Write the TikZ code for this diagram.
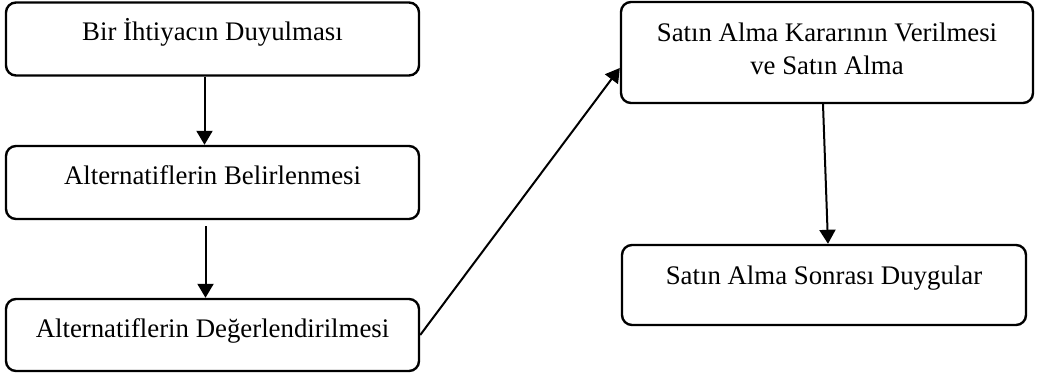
\documentclass[tikz,border=0pt]{standalone}
\usepackage{fontspec}
\setmainfont{Liberation Serif}
\usetikzlibrary{arrows.meta}

\begin{document}
\begin{tikzpicture}[x=0.5pt, y=-0.5pt,
    stage/.style={draw, line width=1.2pt, rounded corners=5pt, align=center,
        font=\fontsize{13.4}{16.5}\selectfont},
    oneline/.style={text height=9pt, text depth=7pt},
    flow/.style={-{Triangle[length=7pt, width=8pt]}, line width=1pt}]
    % Fix the frame of the picture
    \useasboundingbox (0,0) rectangle (1039,374);

    % Left column of stages
    \node[stage, oneline, minimum width=206.5pt, minimum height=36.5pt] (need) at (212.5,39) {Bir İhtiyacın Duyulması};
    \node[stage, oneline, minimum width=206.5pt, minimum height=36.5pt] (alts) at (212.5,182.5) {Alternatiflerin Belirlenmesi};
    \node[stage, oneline, minimum width=206.5pt, minimum height=36pt] (eval) at (212.5,335) {Alternatiflerin Değerlendirilmesi};

    % Right column of stages
    \node[stage, text height=21.8pt, minimum width=206pt, minimum height=50.5pt] (buy) at (827,52.5) {Satın Alma Kararının Verilmesi\\ve Satın Alma};
    \node[stage, oneline, minimum width=202pt, minimum height=40pt, text depth=9.5pt] (post) at (824,285) {Satın Alma Sonrası Duygular};

    % Loose start of the second arrow
    \coordinate (altsout) at ([xshift=-3.5pt, yshift=-3pt]alts.south);

    % Arrows between the stages
    \draw[flow] ([xshift=-4pt]need.south) -- ([xshift=-4pt]alts.north);
    \draw[flow] (altsout) -- (altsout |- eval.north);
    \draw[flow] (eval.east) -- ([yshift=-7.75pt]buy.west);
    \draw[flow] ([xshift=-2pt]buy.south) -- ([xshift=2pt]post.north);
\end{tikzpicture}
\end{document}
